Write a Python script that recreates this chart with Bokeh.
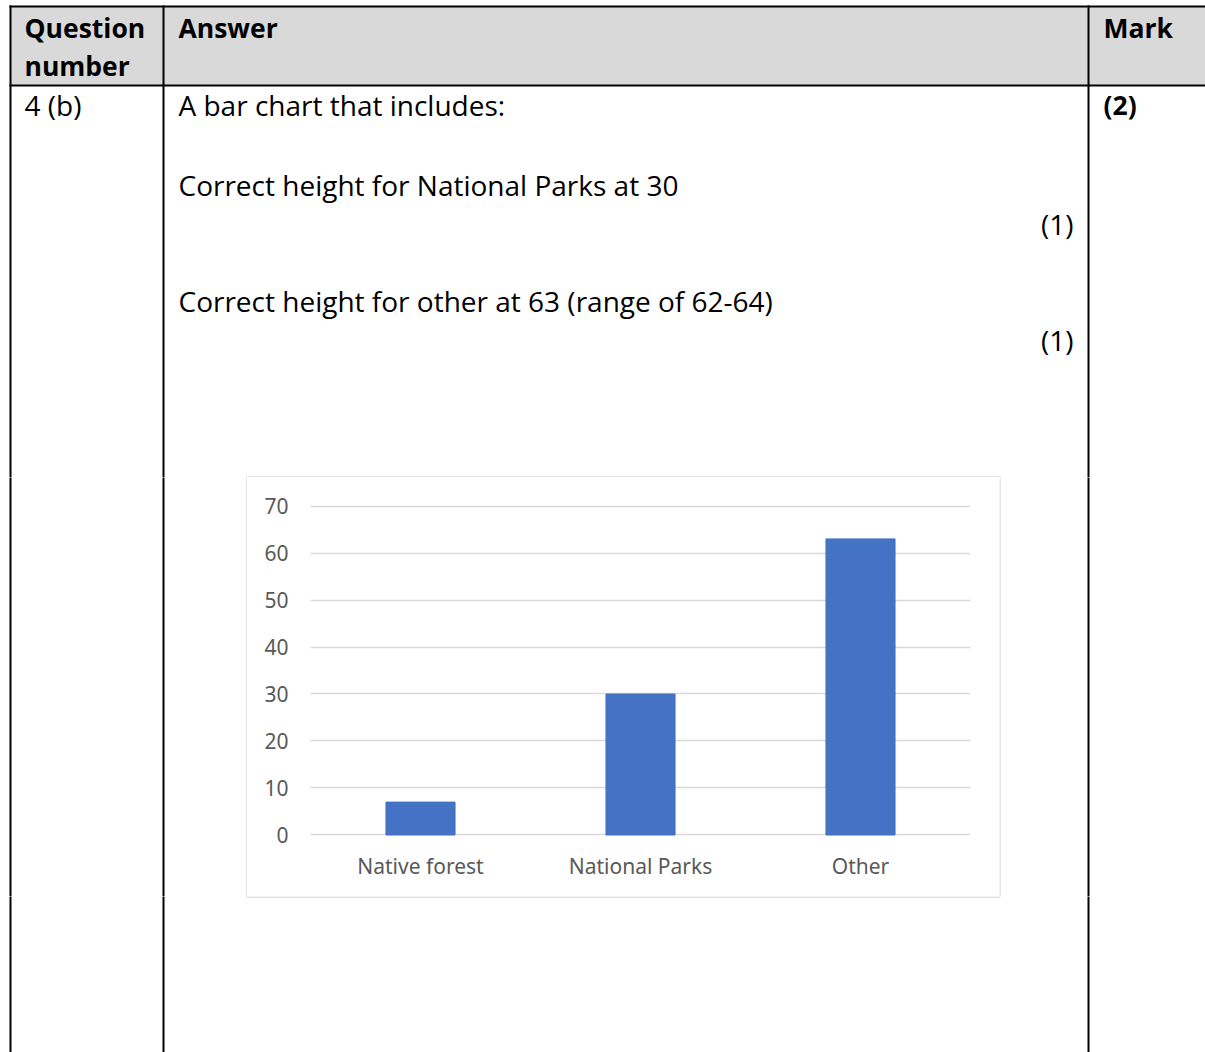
from bokeh.plotting import figure
from bokeh.models import Range1d, FactorRange, GridBox
from bokeh.core.properties import value
from bokeh.embed import file_html
from bokeh.resources import INLINE

# ---------------- data ----------------
categories = ["Native forest", "National Parks", "Other"]
values = [7, 30, 63]
y_ticks = [0, 10, 20, 30, 40, 50, 60, 70]

# table texts
header_texts = ["Question", "number", "Answer", "Mark"]
row_texts = ["4 (b)", "A bar chart that includes:",
             "Correct height for National Parks at 30",
             "Correct height for other at 63 (range of 62-64)"]
mark_total = "(2)"
sub_marks = ["(1)", "(1)"]

W, H = 1205, 1052
TABLE_FONT = "Open Sans"
CHART_FONT = "Noto Sans"
GRAY_TEXT = "#595959"
BOX = "#d9d9d9"


def canvas(x0, x1, y0, y1, box_edges):
    p = figure(width=x1 - x0, height=y1 - y0,
               x_range=Range1d(x0, x1), y_range=Range1d(y1, y0),
               output_backend="svg", toolbar_location=None,
               min_border=0, frame_align=False)
    p.axis.visible = False
    p.grid.visible = False
    p.outline_line_color = None
    p.background_fill_color = "white"
    p.border_fill_color = "white"
    # chart box border edges that fall in this canvas
    bx0, bx1, by0, by1 = box_edges
    p.segment(x0=bx0, y0=by0, x1=bx1, y1=by1, line_color=BOX, line_width=1.3)
    if y0 < 85:
        # header shading
        p.quad(left=[10], right=[W], top=[6], bottom=[85],
               fill_color="#d9d9d9", line_color=None)
        # horizontal table lines (2 px)
        p.quad(left=[9, 9], right=[W, W], top=[5, 84], bottom=[7, 86],
               fill_color="black", line_color=None)
    # vertical table lines (2 px)
    p.quad(left=[9, 162, 1087], right=[11, 164, 1089],
           top=[5, 5, 5], bottom=[H, H, H],
           fill_color="black", line_color=None)
    return p


top = canvas(0, W, 0, 477, ([246], [1000], [476.5], [476.5]))
left = canvas(0, 247, 477, 896, ([246.5], [246.5], [470], [900]))
right = canvas(999, W, 477, 896, ([999.5], [999.5], [470], [900]))
bottom = canvas(0, W, 896, H, ([246], [1000], [896.5], [896.5]))

fs = value("28px")
bfs = value("26.5px")
# header texts (bold)
top.text(x=[24, 24, 178, 1103], y=[27, 65, 27, 27], text=header_texts,
         text_font=value(TABLE_FONT), text_font_size=bfs, text_font_style="bold",
         text_baseline="middle", text_align="left", text_color="black")
top.text(x=[1103], y=[104], text=[mark_total],
         text_font=value(TABLE_FONT), text_font_size=bfs, text_font_style="bold",
         text_baseline="middle", text_align="left", text_color="black")
top.text(x=[24, 178, 178, 178], y=[104, 104, 184, 300], text=row_texts,
         text_font=value(TABLE_FONT), text_font_size=fs,
         text_baseline="middle", text_align="left", text_color="black")
top.text(x=[1073, 1073], y=[223, 339], text=sub_marks,
         text_font=value(TABLE_FONT), text_font_size=fs,
         text_baseline="middle", text_align="right", text_color="black")

# ---------------- chart ----------------
chart = figure(width=752, height=419,
               x_range=FactorRange(*categories, range_padding=0),
               y_range=Range1d(-0.32, 70.32),
               output_backend="svg", toolbar_location=None,
               min_border_left=63, min_border_right=29,
               min_border_top=27, min_border_bottom=60, frame_align=False)
chart.outline_line_color = None
chart.vbar(x=categories, top=values, width=0.314, color="#4472c4")
chart.xgrid.visible = False
chart.ygrid.grid_line_color = "#d9d9d9"
chart.ygrid.grid_line_width = 1.3
chart.ygrid.ticker = y_ticks
chart.yaxis.ticker = y_ticks
for ax in (chart.xaxis[0], chart.yaxis[0]):
    ax.axis_line_color = None
    ax.major_tick_line_color = None
    ax.minor_tick_line_color = None
    ax.major_tick_in = 0
    ax.major_tick_out = 0
    ax.major_label_text_color = GRAY_TEXT
    ax.major_label_text_font = CHART_FONT
    ax.major_label_text_font_size = "21px"
chart.yaxis.major_label_standoff = 22
chart.xaxis.major_label_standoff = 15

layout = GridBox(children=[(top, 0, 0, 1, 3),
                           (left, 1, 0), (chart, 1, 1), (right, 1, 2),
                           (bottom, 2, 0, 1, 3)], spacing=0)
open("out.html", "w").write(file_html(layout, INLINE))
